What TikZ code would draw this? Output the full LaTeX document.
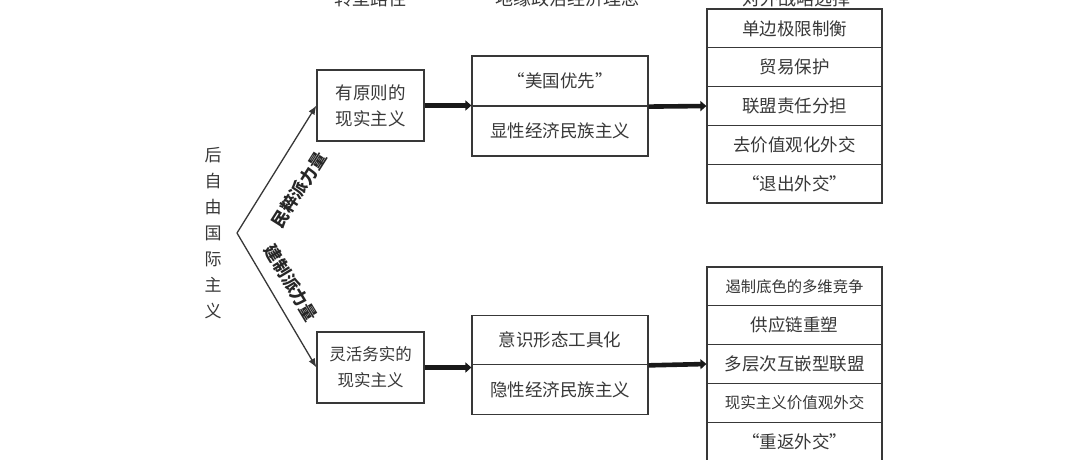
\documentclass[tikz,border=0pt]{standalone}
\usepackage{fontspec}
\setmainfont{Liberation Serif}
\newfontfamily\cjk{Noto Sans CJK SC}
\usetikzlibrary{arrows.meta}
\definecolor{ink}{gray}{0.22}
\tikzset{
  base/.style={text=ink, inner sep=0pt, align=center},
  fsz/.style={font=\cjk\fontsize{#1}{#1}\selectfont},
  pbox/.style={base, draw=ink, line width=1.2pt, fsz=17.5},
  rowbox/.style={pbox, minimum width=175pt, minimum height=38.8pt},
  halfbox/.style={pbox, minimum width=176pt, minimum height=50pt},
  pathbox/.style={pbox, minimum width=107pt, minimum height=71pt, font=\cjk\fontsize{17.5}{26}\selectfont},
  thinarrow/.style={draw=ink, line width=1.3pt, -{Latex[length=9pt,width=7pt]}},
  thickarrow/.style={draw=black!90, line width=4.6pt, -{Triangle[length=6pt,width=10pt]}},
  forcelabel/.style={base, font=\cjk\bfseries\fontsize{17}{17}\selectfont, text=black!85},
  header/.style={base, fsz=18}
}
\begin{document}
\begin{tikzpicture}[x=1pt,y=-1pt]
\useasboundingbox (0,0) rectangle (1080,459);
\clip (0,0) rectangle (1080,459);
\fill[white] (0,0) rectangle (1080,459);

% headers (cut off at top)
\node[header] (h1) at (370,-1) {转型路径};
\node[header] (h2) at (567,-1) {地缘政治经济理念};
\node[header] (h3) at (796,-1) {对外战略选择};

% left vertical title
\node[base, font=\cjk\fontsize{17}{26}\selectfont] (title) at (213,233.5) {后\\自\\由\\国\\际\\主\\义};
\coordinate (apex) at (237,233);

% path boxes
\node[pathbox] (A) at (370.5,105.5) {有原则的\\现实主义};
\node[pathbox, font=\cjk\fontsize{16.5}{26}\selectfont] (C) at (370.5,367.5) {灵活务实的\\现实主义};

% idea boxes
\node[halfbox] (B1) at (560,81) {“美国优先”};
\node[halfbox] (B2) at (560,131) {显性经济民族主义};
\node[halfbox, minimum height=49.5pt] (D1) at (560,340) {意识形态工具化};
\node[halfbox, minimum height=49.5pt] (D2) at (560,389.5) {隐性经济民族主义};

% strategy lists, top
\node[rowbox] (L1) at (794.5,28.4) {单边极限制衡};
\node[rowbox] (L2) at (794.5,67.2) {贸易保护};
\node[rowbox] (L3) at (794.5,106) {联盟责任分担};
\node[rowbox] (L4) at (794.5,144.8) {去价值观化外交};
\node[rowbox] (L5) at (794.5,183.6) {“退出外交”};

% strategy lists, bottom
\node[rowbox, fsz=15.3] (M1) at (794.5,286.4) {遏制底色的多维竞争};
\node[rowbox] (M2) at (794.5,325.2) {供应链重塑};
\node[rowbox] (M3) at (794.5,364) {多层次互嵌型联盟};
\node[rowbox, fsz=15.5] (M4) at (794.5,402.8) {现实主义价值观外交};
\node[rowbox] (M5) at (794.5,441.6) {“重返外交”};

% connectors
\draw[thinarrow] (apex) -- (A.west);
\draw[thinarrow] (apex) -- (C.west);
\draw[thickarrow] (A.east) -- (A.east -| B1.west);
\draw[thickarrow] (B1.south east) -- (L3.west);
\draw[thickarrow] (C.east) -- (C.east -| D1.west);
\draw[thickarrow] (D1.south east) -- (M3.west);

% force labels
\node[forcelabel, rotate=57.6] (f1) at (299,190) {民粹派力量};
\node[forcelabel, rotate=-58.9] (f2) at (291,283) {建制派力量};
\end{tikzpicture}
\end{document}
